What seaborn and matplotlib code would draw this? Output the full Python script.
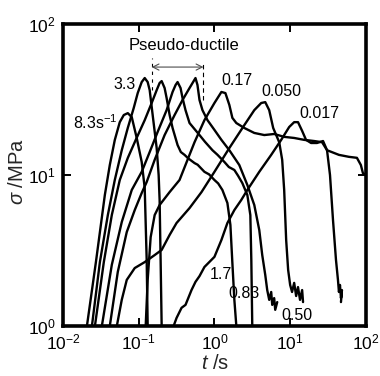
import matplotlib
matplotlib.use("Agg")
import matplotlib.pyplot as plt
from matplotlib.ticker import LogLocator, NullLocator, LogFormatterSciNotation
import numpy as np
import pandas as pd
import seaborn as sns

# ---------------- data ----------------
# strain-rate labels (s^-1) for each curve
rates = ["8.3", "3.3", "1.7", "0.83", "0.50", "0.17", "0.050", "0.017"]

t_83 = [0.0207, 0.0272, 0.0357, 0.0415, 0.0483, 0.0562, 0.0635, 0.0717, 0.0809, 0.0941, 0.1095, 0.120, 0.1274, 0.1313]
s_83 = [1.00, 2.65, 7.38, 11.65, 17.06, 22.4, 24.97, 25.7, 24.2, 17.6, 12.2, 8.20, 2.74, 1.00]

t_33 = [0.0241, 0.0307, 0.0391, 0.0483, 0.0597, 0.0717, 0.0859, 0.0970, 0.1095, 0.120, 0.1313, 0.1396, 0.1528, 0.1726, 0.1833, 0.1888, 0.1946, 0.2009]
s_33 = [1.00, 2.65, 5.43, 9.27, 14.6, 20.5, 27.8, 34.9, 41.3, 43.9, 41.3, 36.5, 25.0, 15.1, 10.0, 6.83, 2.74, 1.00]

t_17 = [0.0264, 0.0346, 0.0441, 0.0562, 0.0717, 0.0914, 0.120, 0.1483, 0.1726, 0.1888, 0.2009, 0.2198, 0.2335, 0.2559, 0.280, 0.326,
        0.360, 0.403, 0.45, 0.546, 0.60, 0.738, 0.85, 1.00, 1.12, 1.274, 1.483, 1.625, 1.726, 1.833, 1.946]
s_17 = [1.00, 2.65, 5.43, 9.27, 12.97, 17.1, 23.1, 30.0, 36.5, 40.7, 41.9, 37.7, 32.4, 25.0, 20.5, 15.8,
        14.2, 13.6, 12.9, 12.0, 11.7, 10.5, 10.1, 9.27, 8.8, 7.96, 6.53, 4.67, 2.61, 1.49, 1.00]

t_083 = [0.0326, 0.0441, 0.0597, 0.0809, 0.1095, 0.1396, 0.1778, 0.2335, 0.280, 0.307, 0.326, 0.357, 0.379, 0.415, 0.469, 0.635,
         0.75, 0.942, 1.10, 1.355, 1.55, 1.833, 2.05, 2.335, 2.72, 2.98, 3.07, 3.16]
s_083 = [1.00, 2.54, 4.88, 7.96, 10.5, 14.2, 19.3, 26.9, 35.5, 39.5, 41.3, 37.7, 32.4, 26.9, 22.1, 18.4,
         16.6, 14.6, 13.6, 12.2, 11.3, 10.8, 9.9, 8.85, 7.38, 5.43, 2.74, 1.00]

t_050 = [0.0415, 0.0529, 0.0695, 0.0886, 0.1095, 0.1274, 0.1624, 0.2198, 0.298, 0.379, 0.469, 0.562, 0.597, 0.635, 0.695, 0.809,
         1.00, 1.236, 1.574, 2.13, 2.72, 3.36, 3.91, 4.28, 4.69, 4.98, 5.29, 5.62, 5.80, 6.15, 6.35, 6.75]
s_050 = [1.00, 2.28, 4.19, 5.86, 7.60, 8.99, 12.6, 18.4, 25.0, 31.4, 37.7, 43.9, 39.5, 31.4, 26.9, 23.1,
         19.9, 17.1, 14.6, 11.65, 8.59, 6.33, 4.32, 2.95, 2.18, 1.73, 1.49, 1.68, 1.38, 1.53, 1.28, 1.44]

t_017a = [0.1236, 0.1313, 0.1438, 0.1624, 0.1888, 0.2559, 0.346, 0.441, 0.546, 0.738, 1.00, 1.236, 1.396, 1.574, 1.726, 1.946,
          2.48, 3.36, 4.55, 6.15, 8.34, 11.3, 15.3, 20.7, 26.4, 30.7, 44.1, 59.7, 76.2, 85.9, 91.4, 100.0]
s_017a = [1.00, 2.02, 3.88, 5.43, 6.33, 7.71, 9.27, 12.6, 16.5, 23.1, 30.0, 35.5, 34.9, 29.1, 23.9, 22.1,
          20.5, 19.0, 18.4, 18.7, 17.9, 17.6, 17.1, 16.8, 16.5, 14.6, 13.6, 13.2, 13.0, 11.65, 10.3, 10.0]

t_0050 = [0.0514, 0.0597, 0.0695, 0.0886, 0.120, 0.1624, 0.2009, 0.2559, 0.316, 0.469, 0.675, 1.00, 1.574, 2.48, 3.36, 4.15,
          4.69, 5.29, 5.97, 7.17, 7.85, 8.34, 8.86, 9.41, 10.0, 10.6, 11.3, 12.0, 12.7, 13.5, 14.4, 14.8]
s_0050 = [1.00, 1.49, 2.02, 2.42, 2.65, 2.95, 3.19, 4.01, 4.81, 6.04, 7.71, 10.5, 15.1, 21.4, 26.9, 30.0,
          30.4, 26.9, 20.5, 16.5, 12.6, 7.96, 3.71, 2.35, 1.87, 1.68, 1.93, 1.58, 1.81, 1.49, 1.73, 1.44]

t_0017 = [0.289, 0.316, 0.368, 0.415, 0.498, 0.562, 0.635, 0.738, 1.00, 1.236, 1.483, 1.833, 2.26, 2.72, 3.91, 5.62,
          7.62, 9.71, 11.3, 12.7, 14.4, 16.2, 18.9, 22.6, 27.2, 30.7, 33.6, 36.8, 40.3, 42.8, 44.1, 45.5, 46.9, 48.3, 46.9]
s_0017 = [1.00, 1.13, 1.32, 1.38, 1.73, 1.96, 2.14, 2.46, 2.87, 3.71, 4.81, 5.86, 6.83, 7.96, 10.5, 13.6,
          17.1, 20.8, 22.4, 22.4, 19.6, 17.1, 16.3, 16.3, 16.8, 14.6, 10.0, 5.04, 2.74, 2.02, 1.68, 1.87, 1.53, 1.73, 1.44]

curve_t = [t_83, t_33, t_17, t_083, t_050, t_017a, t_0050, t_0017]
curve_s = [s_83, s_33, s_17, s_083, s_050, s_017a, s_0050, s_0017]

# label texts and their positions (t, sigma)
label_text = ["8.3s$^{-1}$", "3.3", "1.7", "0.83", "0.50", "0.17", "0.050", "0.017"]
label_t = [0.0264, 0.0655, 1.20, 2.48, 12.4, 2.01, 7.62, 24.1]
label_s = [22.1, 39.5, 2.21, 1.65, 1.18, 42.6, 35.5, 25.7]

# pseudo-ductile annotation
pd_left, pd_right, pd_sigma = 0.148, 0.716, 51.9
pd_text_t, pd_text_s = 0.40, 72.6

# ---------------- build table ----------------
rows = []
for r, ts, ss in zip(rates, curve_t, curve_s):
    for i, (tt, s) in enumerate(zip(ts, ss)):
        rows.append({"rate": r, "idx": i, "t": tt, "sigma": s})
df = pd.DataFrame(rows)

# ---------------- style ----------------
sns.set_theme(style="ticks")
plt.rcParams["font.family"] = ["Liberation Sans", "DejaVu Sans"]
plt.rcParams["mathtext.fontset"] = "custom"
plt.rcParams["mathtext.rm"] = "Liberation Sans"
plt.rcParams["mathtext.it"] = "Liberation Sans:italic"
plt.rcParams["mathtext.bf"] = "Liberation Sans:bold"

fig = plt.figure(figsize=(3.8, 3.76), dpi=100)
ax = fig.add_axes([0.1658, 0.133, 0.797, 0.803])

sns.lineplot(data=df, x="t", y="sigma", units="rate", estimator=None, sort=False,
             color="black", lw=1.7, ax=ax, legend=False)

ax.set_xscale("log")
ax.set_yscale("log")
ax.set_xlim(1e-2, 1e2)
ax.set_ylim(1, 100)

ax.xaxis.set_major_locator(LogLocator(base=10, numticks=10))
ax.yaxis.set_major_locator(LogLocator(base=10, numticks=10))
ax.xaxis.set_minor_locator(NullLocator())
ax.yaxis.set_minor_locator(NullLocator())
ax.xaxis.set_major_formatter(LogFormatterSciNotation())
ax.yaxis.set_major_formatter(LogFormatterSciNotation())

ax.tick_params(which="major", direction="in", length=6, width=1.4, top=True, right=True,
               labelsize=12.5, pad=5, colors="black")
for sp in ax.spines.values():
    sp.set_linewidth(2.6)
    sp.set_color("black")

ax.set_xlabel("$t$ /s", fontsize=14.5)
ax.set_ylabel(r"$\sigma$ /MPa", fontsize=14.5)
ax.xaxis.set_label_coords(0.502, -0.092)
ax.yaxis.set_label_coords(-0.118, 0.51)

for txt, lt, ls in zip(label_text, label_t, label_s):
    ax.text(lt, ls, txt, ha="center", va="center", fontsize=11.5, color="black")

ax.annotate("", xy=(pd_left, pd_sigma), xytext=(pd_right, pd_sigma),
            arrowprops=dict(arrowstyle="<->", color="0.3", lw=0.8, shrinkA=0, shrinkB=0,
                            mutation_scale=11))
ax.plot([pd_left, pd_left], [36.6, 60.0], color="black", lw=0.8, ls=(0, (3, 4)))
ax.plot([pd_right, pd_right], [31.4, 56.0], color="black", lw=0.8, ls=(0, (4, 3)))
ax.text(pd_text_t, pd_text_s, "Pseudo-ductile", ha="center", va="center", fontsize=12, color="black")

fig.savefig("out.png", dpi=100)
